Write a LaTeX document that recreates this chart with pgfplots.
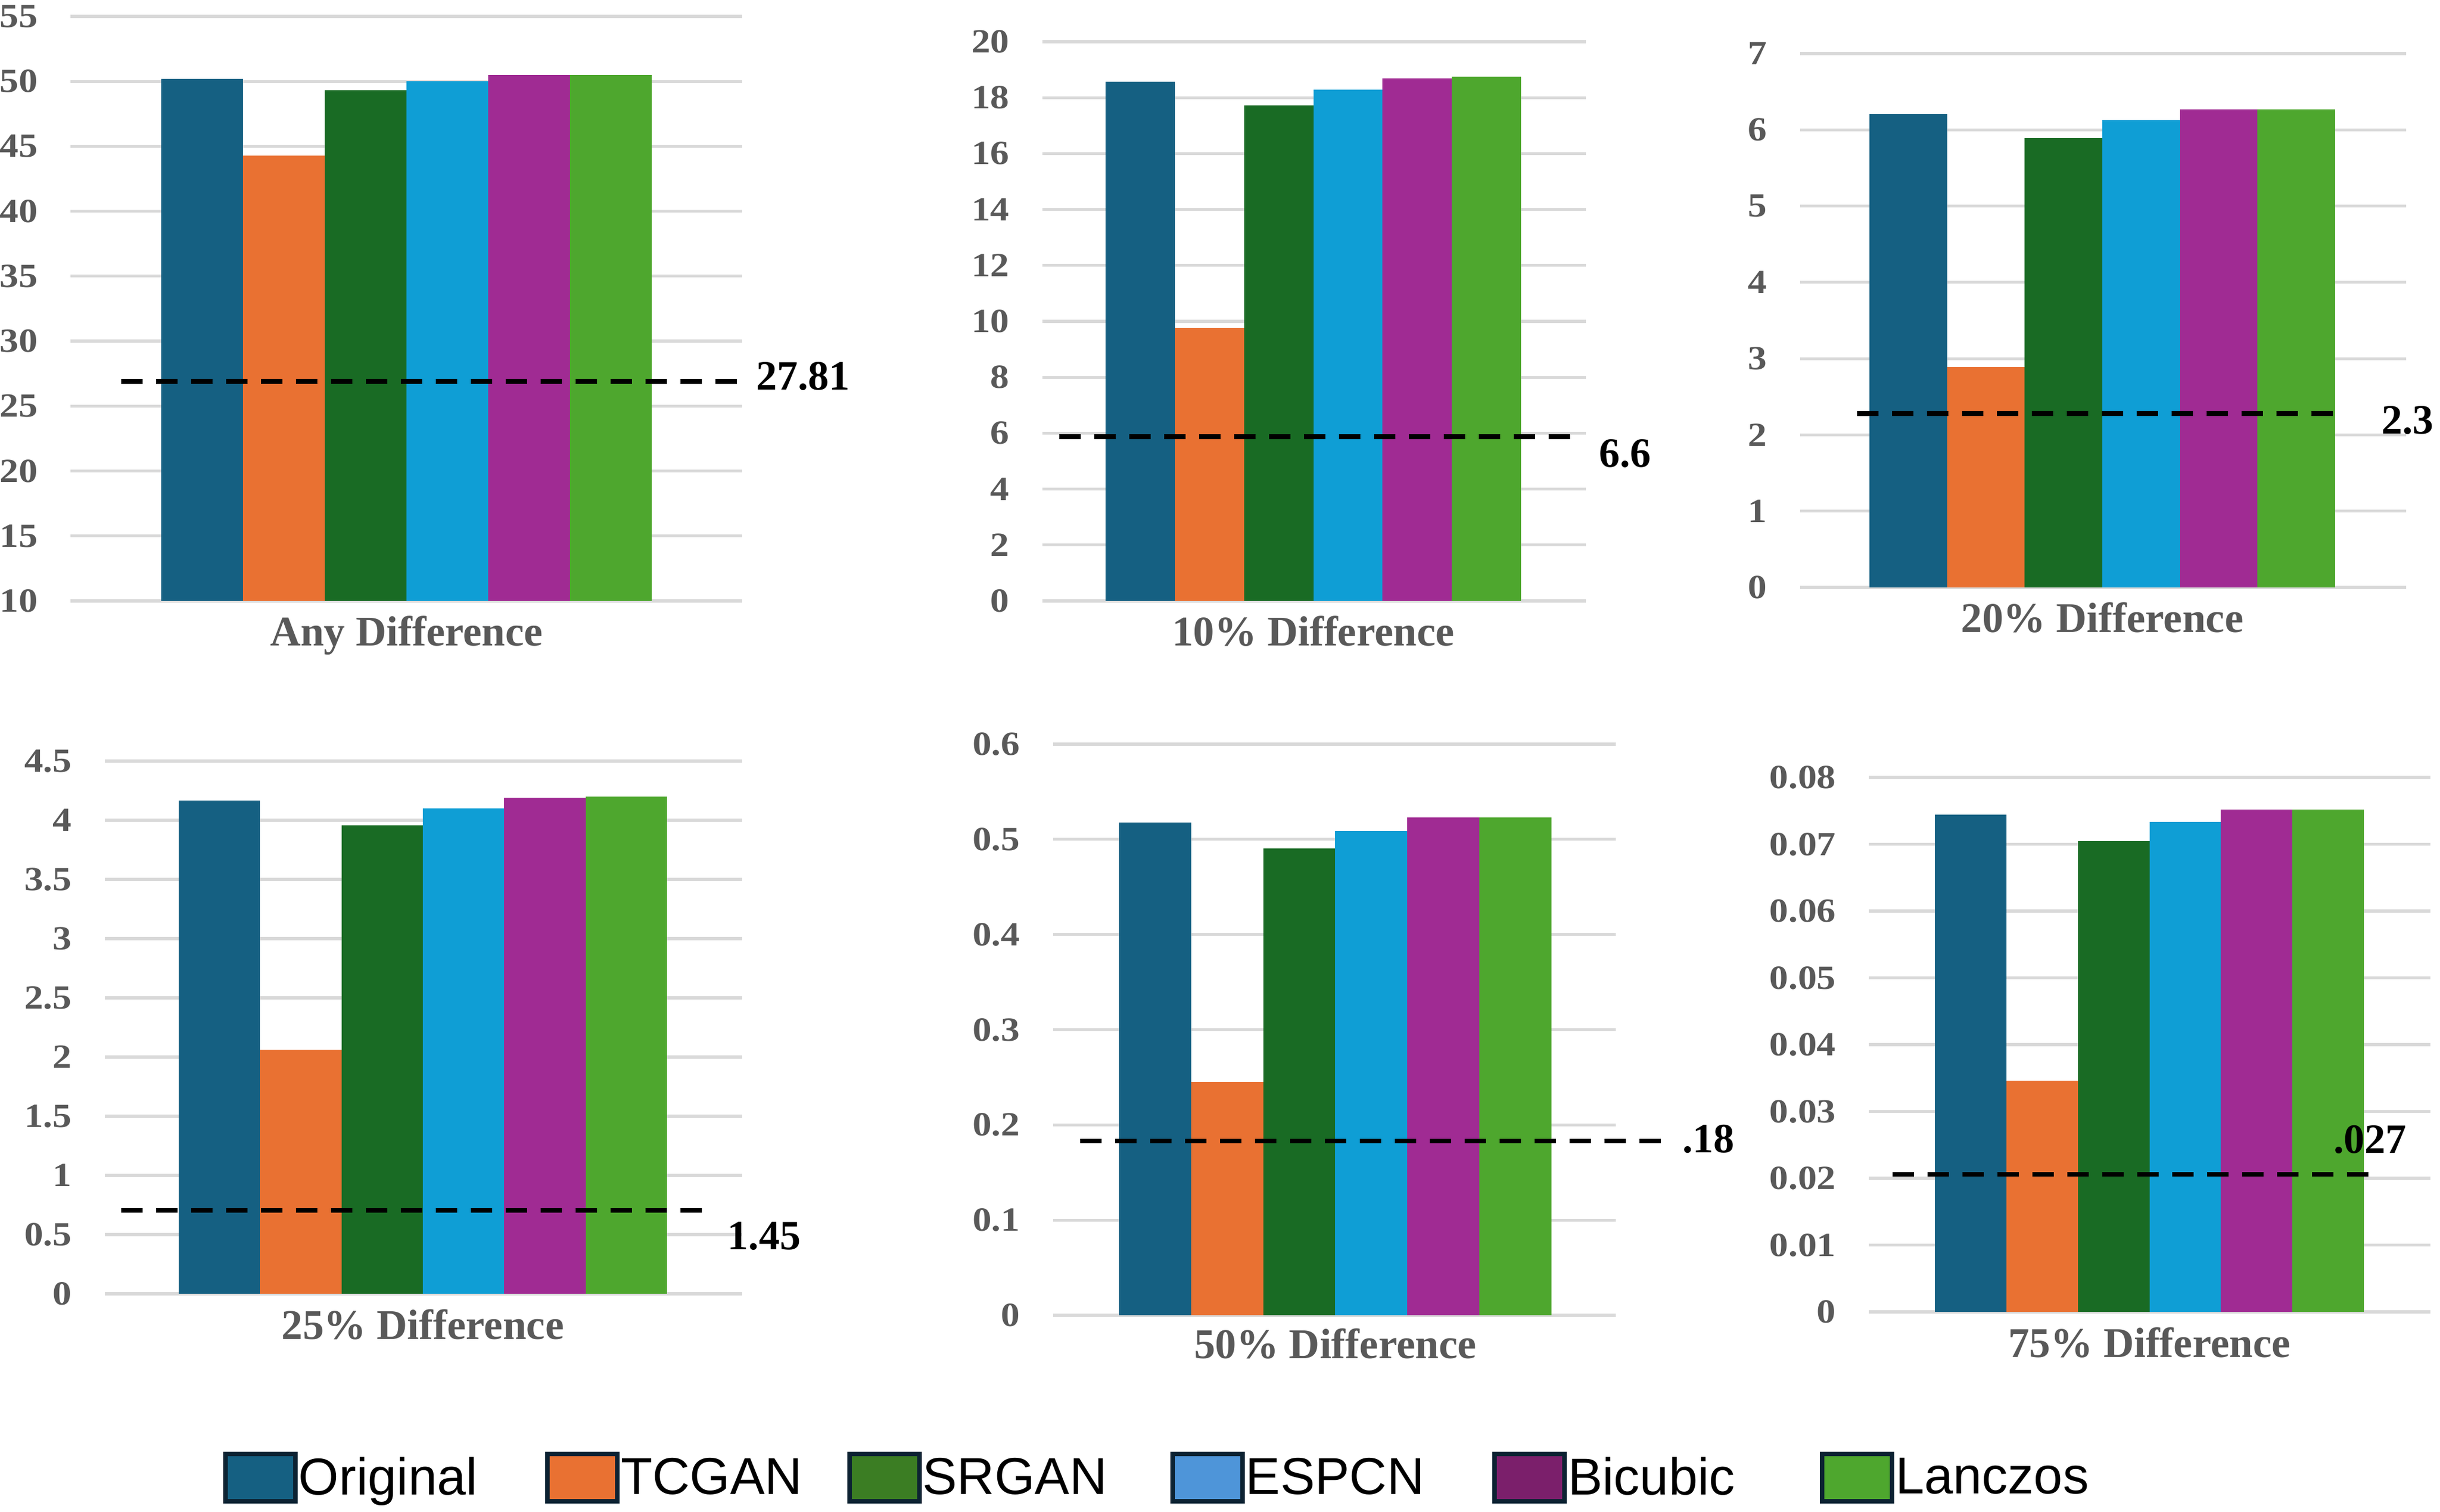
\documentclass[border=0pt]{standalone}
\usepackage{pgfplots}
\pgfplotsset{compat=1.18}
\usepackage{fontspec}
\setmainfont{Liberation Serif}
\newfontfamily\legfont{Liberation Sans}
\newfontfamily\ticfam[FakeStretch=1.12]{Liberation Serif}
\definecolor{c1}{HTML}{156082}
\definecolor{c2}{HTML}{E97132}
\definecolor{c3}{HTML}{196B24}
\definecolor{c4}{HTML}{0F9ED5}
\definecolor{c5}{HTML}{A02B93}
\definecolor{c6}{HTML}{4EA72E}
\definecolor{l1}{HTML}{156082}
\definecolor{l2}{HTML}{E97132}
\definecolor{l3}{HTML}{3B7D23}
\definecolor{l4}{HTML}{4E95D9}
\definecolor{l5}{HTML}{7B1F6B}
\definecolor{l6}{HTML}{4EA72E}
\definecolor{legedge}{HTML}{0C2232}
\definecolor{gridgray}{HTML}{D9D9D9}
\definecolor{tickgray}{HTML}{595959}
\newcommand\ticfont{\ticfam\fontsize{15pt}{15pt}\selectfont\bfseries}
\newcommand\catfont{\fontsize{18.75pt}{19pt}\selectfont\bfseries}
\newcommand\dlfont{\fontsize{18.5pt}{19pt}\selectfont\bfseries}
\tikzset{dlab/.style={anchor=west, inner sep=0pt, font=\dlfont, text=black}}
\pgfplotsset{
  panel/.style={scale only axis, anchor=south west,
    axis line style={draw=none}, major tick length=0pt,
    ymajorgrids, grid style={draw=gridgray, line width=1.3pt},
    xtick={0}, scaled y ticks=false,
    yticklabel style={anchor=east, inner sep=0pt, xshift=-14.5pt, font=\ticfont, text=tickgray},
    xticklabel style={anchor=base, inner sep=0pt, yshift=-20pt, font=\catfont, text=tickgray},
    clip=false},
  bars/.style={ybar, bar width=1, bar shift=0pt, draw=none},
  dline/.style={black, line width=2.1pt, dash pattern=on 9.5pt off 6pt, mark=none},
  legbox/.style={draw=legedge, line width=2pt,
    legend image code/.code={\draw[##1] (1pt,-10.5pt) rectangle (32pt,10.5pt);}}
}
\begin{document}
\begin{tikzpicture}
\useasboundingbox (0,0) rectangle (1082pt,670.25pt);
\clip (0,0) rectangle (1082pt,670.25pt);

% Panel 1: Any Difference
\begin{axis}[panel, at={(31.375pt,403.75pt)}, width=297.625pt, height=259.25pt,
  xmin=-4.107, xmax=4.103, ymin=10, ymax=55,
  ytick={10,15,20,25,30,35,40,45,50,55},
  yticklabels={10,15,20,25,30,35,40,45,50,55},
  xticklabels={Any Difference}, clip=true, clip mode=individual]
\addplot[bars, fill=c1] coordinates {(-2.5,50.2)};
\addplot[bars, fill=c2] coordinates {(-1.5,44.3)};
\addplot[bars, fill=c3] coordinates {(-0.5,49.3)};
\addplot[bars, fill=c4] coordinates {(0.5,50.0)};
\addplot[bars, fill=c5] coordinates {(1.5,50.5)};
\addplot[bars, fill=c6] coordinates {(2.5,50.5)};
\addplot[dline] coordinates {(-3.49,26.9) (4.10,26.9)};
\node[dlab] at (axis cs:4.27,27.3) {27.81};
\end{axis}

% Panel 2: 10% Difference
\begin{axis}[panel, at={(462.25pt,403.75pt)}, width=241pt, height=248pt,
  xmin=-3.913, xmax=3.937, ymin=0, ymax=20,
  ytick={0,2,4,6,8,10,12,14,16,18,20},
  yticklabels={0,2,4,6,8,10,12,14,16,18,20},
  xticklabels={10\% Difference}]
\addplot[bars, fill=c1] coordinates {(-2.5,18.56)};
\addplot[bars, fill=c2] coordinates {(-1.5,9.75)};
\addplot[bars, fill=c3] coordinates {(-0.5,17.72)};
\addplot[bars, fill=c4] coordinates {(0.5,18.29)};
\addplot[bars, fill=c5] coordinates {(1.5,18.69)};
\addplot[bars, fill=c6] coordinates {(2.5,18.75)};
\addplot[dline] coordinates {(-3.67,5.88) (3.83,5.88)};
\node[dlab] at (axis cs:4.12,5.28) {6.6};
\end{axis}

% Panel 3: 20% Difference
\begin{axis}[panel, at={(798.25pt,409.75pt)}, width=268.75pt, height=236.75pt,
  xmin=-3.893, xmax=3.914, ymin=0, ymax=7,
  ytick={0,1,2,3,4,5,6,7},
  yticklabels={0,1,2,3,4,5,6,7},
  xticklabels={20\% Difference}]
\addplot[bars, fill=c1] coordinates {(-2.5,6.21)};
\addplot[bars, fill=c2] coordinates {(-1.5,2.89)};
\addplot[bars, fill=c3] coordinates {(-0.5,5.89)};
\addplot[bars, fill=c4] coordinates {(0.5,6.13)};
\addplot[bars, fill=c5] coordinates {(1.5,6.27)};
\addplot[bars, fill=c6] coordinates {(2.5,6.27)};
\addplot[dline] coordinates {(-3.16,2.28) (3.12,2.28)};
\node[dlab] at (axis cs:3.59,2.19) {2.3};
\end{axis}

% Panel 4: 25% Difference
\begin{axis}[panel, at={(46.5pt,96.5pt)}, width=282.5pt, height=236.25pt,
  xmin=-3.908, xmax=3.922, ymin=0, ymax=4.5,
  ytick={0,0.5,1,1.5,2,2.5,3,3.5,4,4.5},
  yticklabels={0,0.5,1,1.5,2,2.5,3,3.5,4,4.5},
  xticklabels={25\% Difference}]
\addplot[bars, fill=c1] coordinates {(-2.5,4.165)};
\addplot[bars, fill=c2] coordinates {(-1.5,2.06)};
\addplot[bars, fill=c3] coordinates {(-0.5,3.956)};
\addplot[bars, fill=c4] coordinates {(0.5,4.10)};
\addplot[bars, fill=c5] coordinates {(1.5,4.19)};
\addplot[bars, fill=c6] coordinates {(2.5,4.20)};
\addplot[dline] coordinates {(-3.71,0.705) (3.45,0.705)};
\node[dlab] at (axis cs:3.74,0.486) {1.45};
\end{axis}

% Panel 5: 50% Difference
\begin{axis}[panel, at={(467pt,87pt)}, width=249.5pt, height=253.25pt,
  xmin=-3.916, xmax=3.893, ymin=0, ymax=0.6,
  ytick={0,0.1,0.2,0.3,0.4,0.5,0.6},
  yticklabels={0,0.1,0.2,0.3,0.4,0.5,0.6},
  xticklabels={50\% Difference}, xticklabel style={yshift=1pt}]
\addplot[bars, fill=c1] coordinates {(-2.5,0.5176)};
\addplot[bars, fill=c2] coordinates {(-1.5,0.245)};
\addplot[bars, fill=c3] coordinates {(-0.5,0.4907)};
\addplot[bars, fill=c4] coordinates {(0.5,0.509)};
\addplot[bars, fill=c5] coordinates {(1.5,0.5228)};
\addplot[bars, fill=c6] coordinates {(2.5,0.523)};
\addplot[dline] coordinates {(-3.54,0.183) (4.70,0.183)};
\node[dlab] at (axis cs:4.81,0.185) {.18};
\end{axis}

% Panel 6: 75% Difference
\begin{axis}[panel, at={(828.75pt,88.5pt)}, width=249pt, height=237pt,
  xmin=-3.923, xmax=3.931, ymin=0, ymax=0.08,
  ytick={0,0.01,0.02,0.03,0.04,0.05,0.06,0.07,0.08},
  yticklabels={0,0.01,0.02,0.03,0.04,0.05,0.06,0.07,0.08},
  xticklabels={75\% Difference}]
\addplot[bars, fill=c1] coordinates {(-2.5,0.0744)};
\addplot[bars, fill=c2] coordinates {(-1.5,0.0346)};
\addplot[bars, fill=c3] coordinates {(-0.5,0.0705)};
\addplot[bars, fill=c4] coordinates {(0.5,0.0733)};
\addplot[bars, fill=c5] coordinates {(1.5,0.0752)};
\addplot[bars, fill=c6] coordinates {(2.5,0.0752)};
\addplot[dline] coordinates {(-3.59,0.0206) (3.21,0.0206)};
\node[dlab] at (axis cs:2.57,0.0258) {.027};
\end{axis}

% Legend
\begin{axis}[at={(0pt,0pt)}, anchor=south west, scale only axis,
  width=1082pt, height=670.25pt, xmin=0, xmax=1, ymin=0, ymax=1, hide axis,
  legend columns=6,
  legend style={at={(0.0913,0.0224)}, anchor=west, draw=none, fill=none,
    inner sep=0pt, font=\legfont\fontsize{23pt}{23pt}\selectfont,
    nodes={inner sep=0.5pt, text=black},
    /tikz/column 2/.style={column sep=29.6pt},
    /tikz/column 4/.style={column sep=19.3pt},
    /tikz/column 6/.style={column sep=27.5pt},
    /tikz/column 8/.style={column sep=29.6pt},
    /tikz/column 10/.style={column sep=37.2pt}}]
\addlegendimage{legbox, fill=l1}
\addlegendentry{Original}
\addlegendimage{legbox, fill=l2}
\addlegendentry{TCGAN}
\addlegendimage{legbox, fill=l3}
\addlegendentry{SRGAN}
\addlegendimage{legbox, fill=l4}
\addlegendentry{ESPCN}
\addlegendimage{legbox, fill=l5}
\addlegendentry{Bicubic}
\addlegendimage{legbox, fill=l6}
\addlegendentry{Lanczos}
\end{axis}
\end{tikzpicture}
\end{document}
